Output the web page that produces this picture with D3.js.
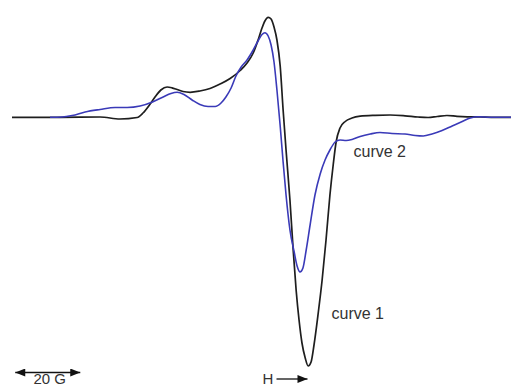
<!DOCTYPE html>
<html>
<head>
<meta charset="utf-8">
<script src="https://cdn.jsdelivr.net/npm/d3@7"></script>
<style>
  html, body { margin: 0; padding: 0; background: #fff; }
  svg { display: block; }
  text { font-family: "Liberation Sans", Arial, sans-serif; fill: #333; }
</style>
</head>
<body>
<svg id="chart" width="511" height="388"></svg>
<script>
// Magnetic field offset (G) and derivative signal (arb. units) for the two EPR spectra
const field1 = [0, 14.8, 27.1, 33.2, 38.5, 40.3, 42.5, 44, 45.8, 47.7, 49.2, 50.8, 52.6, 54.8, 57.8, 60.9, 64, 67.1, 70.2, 72.3, 74.2, 75.7, 76.9, 77.8, 78.8, 79.7, 80.6, 81.5, 82.5, 83.4, 84.3, 85.5, 86.5, 87.4, 88.3, 89.2, 90.2, 91.1, 92, 92.9, 94.2, 95.4, 96.6, 97.8, 98.8, 99.7, 100.9, 102.5, 104.6, 107.1, 111.7, 116.3, 120.9, 124.9, 128, 130.8, 133.8, 136.9, 140, 144, 148.6, 153.5];
const signal1 = [0, 0, 0.3, -1.7, -0.2, 4.3, 13.3, 20.3, 27.3, 30.3, 29.5, 27.8, 25.8, 25, 26.3, 28.8, 33.3, 38.8, 46.8, 54.3, 64.3, 77.3, 89.3, 96.3, 100, 98.3, 90.3, 77.3, 51.3, 7.3, -32.7, -82.7, -132.7, -172.7, -202.7, -225.7, -240.7, -248.7, -244.7, -227.7, -195.7, -162.7, -122.7, -77.7, -47.7, -24.7, -10.7, -4.2, -0.7, 1.1, 2, 2.3, 1.5, 0.3, -0.2, 0.8, 1.8, 1, 0.5, 0.3, 0, 0];

const field2 = [11.7, 15.4, 18.5, 22.5, 27.1, 31.7, 35.4, 39.4, 43.4, 46.5, 48.9, 50.8, 52.9, 55.4, 57.8, 60.3, 62.5, 64.3, 65.8, 67.4, 68.9, 70.5, 72.3, 74.2, 75.7, 76.9, 77.8, 78.8, 79.7, 80.6, 81.5, 82.5, 83.4, 84.3, 85.5, 86.8, 87.7, 88.6, 89.5, 90.5, 91.7, 93.2, 94.8, 96.3, 97.8, 99.4, 100.9, 102.8, 104.6, 107.1, 110.2, 113.2, 116.9, 120.9, 124, 126.5, 129.2, 132.3, 135.4, 138.5, 141, 143.4, 147.1, 153.5];
const signal2 = [0, 0.3, 1.8, 5.3, 7.8, 9.8, 9.8, 11.3, 15.6, 20.3, 23.8, 25, 22.8, 17.3, 12.8, 10.8, 10.8, 14.3, 20.3, 29.3, 41.3, 50.3, 57.3, 67.3, 76.3, 82.8, 84.6, 81.3, 72.3, 55.3, 27.3, -8.7, -44.7, -77.7, -112.7, -134.7, -148.7, -154.7, -150.7, -132.7, -107.7, -77.7, -56.7, -42.7, -32.7, -24.7, -22.7, -23.2, -22.2, -19.2, -16.7, -15.2, -16.2, -16.7, -18.2, -18.7, -16.7, -13.2, -8.7, -4.2, -0.7, 0.5, 0, 0];

const seriesNames = ["curve 1", "curve 2"];
const scaleBarGauss = 20;

const svg = d3.select("#chart");

const x = d3.scaleLinear().domain([0, 153.5]).range([12, 511]);
const y = d3.scaleLinear().domain([-250, 100]).range([367.3, 17.3]);

const line = d3.line()
  .x(d => x(d[0]))
  .y(d => y(d[1]))
  .curve(d3.curveMonotoneX);

const curve1 = d3.zip(field1, signal1);
const curve2 = d3.zip(field2, signal2);

svg.append("path")
  .datum(curve1)
  .attr("d", line)
  .attr("fill", "none")
  .attr("stroke", "#1e1e1e")
  .attr("stroke-width", 1.7)
  .attr("stroke-linejoin", "round");

svg.append("path")
  .datum(curve2)
  .attr("d", line)
  .attr("fill", "none")
  .attr("stroke", "#3a3ab8")
  .attr("stroke-width", 1.6)
  .attr("stroke-linejoin", "round");

// Curve labels
svg.append("text")
  .attr("x", 353.5).attr("y", 157.3)
  .attr("font-size", 16)
  .text(seriesNames[1]);

svg.append("text")
  .attr("x", 331.5).attr("y", 318.5)
  .attr("font-size", 16)
  .text(seriesNames[0]);

// Arrowhead markers
const defs = svg.append("defs");
defs.append("marker")
  .attr("id", "head")
  .attr("viewBox", "0 0 10 8")
  .attr("refX", 10).attr("refY", 4)
  .attr("markerUnits", "userSpaceOnUse")
  .attr("markerWidth", 11).attr("markerHeight", 8)
  .attr("orient", "auto-start-reverse")
  .append("path")
  .attr("d", "M0,0 L10,4 L0,8 Z")
  .attr("fill", "#111");

// 20 G scale bar
const barStart = 1;
svg.append("line")
  .attr("x1", x(barStart)).attr("x2", x(barStart + scaleBarGauss))
  .attr("y1", 372.5).attr("y2", 372.5)
  .attr("stroke", "#111").attr("stroke-width", 1.3)
  .attr("marker-start", "url(#head)")
  .attr("marker-end", "url(#head)");

svg.append("text")
  .attr("x", (x(barStart) + x(barStart + scaleBarGauss)) / 2 + 2)
  .attr("y", 384)
  .attr("text-anchor", "middle")
  .attr("font-size", 15)
  .text(scaleBarGauss + " G");

// Field direction
svg.append("text")
  .attr("x", 262.5).attr("y", 384)
  .attr("font-size", 15)
  .text("H");

svg.append("line")
  .attr("x1", 276.5).attr("x2", 307.5)
  .attr("y1", 379).attr("y2", 379)
  .attr("stroke", "#111").attr("stroke-width", 1.3)
  .attr("marker-end", "url(#head)");
</script>
</body>
</html>
